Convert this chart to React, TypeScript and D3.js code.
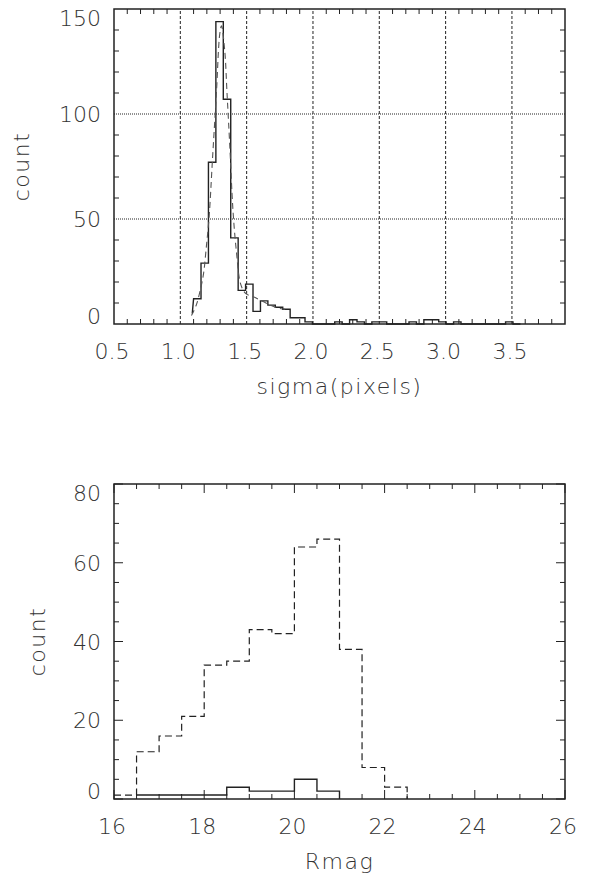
import React, { useEffect, useRef } from 'react';
import * as d3 from 'd3';

// ---- top panel: sigma histogram (solid) + fitted profile (dashed) ----
const sigmaBinStart = 1.1;
const sigmaBinWidth = 0.056;
const sigmaLead = [1.09, 5]; // partial first step drawn by the plot routine
const sigmaCounts = [
  12, 29, 77, 144, 107, 41, 16, 19, 6, 11, 9, 8, 7, 3, 3, 1,
  0, 0, 0, 1, 0, 2, 1, 0, 1, 1, 0, 0, 0, 1, 0, 2, 2, 1, 0, 1,
  0, 0, 0, 0, 0, 0, 1, 0,
];
const fitSigma = [1.084, 1.12, 1.15, 1.175, 1.195, 1.217, 1.242, 1.272, 1.297, 1.31, 1.335, 1.352, 1.372, 1.397, 1.422, 1.455, 1.492, 1.56, 1.648, 1.723, 1.79];
const fitCount = [4, 9, 16, 24, 36, 51, 78, 110, 138, 142, 130, 110, 86, 54, 35, 19, 14.6, 12.7, 9.9, 7.8, 7];
const sigmaTicks = [0.5, 1.0, 1.5, 2.0, 2.5, 3.0, 3.5];
const sigmaTickLabels = ['0.5', '1.0', '1.5', '2.0', '2.5', '3.0', '3.5'];
const countTicksTop = [0, 50, 100, 150];

// ---- bottom panel: Rmag histograms ----
const rmagBinWidth = 0.5;
const rmagAllStart = 16.0;
const rmagAll = [1, 12, 16, 21, 34, 35, 43, 42, 64, 66, 38, 8, 3];
const rmagSelStart = 16.5;
const rmagSel = [1, 1, 1, 1, 3, 2, 2, 5, 2];
const rmagTicks = [16, 18, 20, 22, 24, 26];
const countTicksBottom = [0, 20, 40, 60, 80];

const FONT = '"DejaVu Sans", sans-serif';
const INK = '#222';
const TEXT = '#333';

const stepPoints = (start, width, counts) => {
  const pts = [];
  counts.forEach((c, i) => {
    pts.push([start + i * width, c]);
    pts.push([start + (i + 1) * width, c]);
  });
  return pts;
};

const drawFrame = (g, x, y, opts) => {
  const [x0, x1] = x.range();
  const [y0, y1] = y.range();

  // minor + major ticks on all four sides
  const tick = (xs, len) => {
    xs.forEach((v) => {
      const px = x(v);
      g.append('line').attr('x1', px).attr('x2', px).attr('y1', y0).attr('y2', y0 - len)
        .attr('stroke', INK).attr('stroke-width', 1);
      g.append('line').attr('x1', px).attr('x2', px).attr('y1', y1).attr('y2', y1 + len)
        .attr('stroke', INK).attr('stroke-width', 1);
    });
  };
  const tickY = (ys, len) => {
    ys.forEach((v) => {
      const py = y(v);
      g.append('line').attr('x1', x0).attr('x2', x0 + len).attr('y1', py).attr('y2', py)
        .attr('stroke', INK).attr('stroke-width', 1);
      g.append('line').attr('x1', x1).attr('x2', x1 - len).attr('y1', py).attr('y2', py)
        .attr('stroke', INK).attr('stroke-width', 1);
    });
  };
  tick(opts.xMinor, 5);
  tickY(opts.yMinor, 5);
  if (opts.grid) {
    opts.xMajor.filter((v) => x(v) > x0 + 1 && x(v) < x1 - 1).forEach((v) => {
      g.append('line').attr('x1', x(v)).attr('x2', x(v)).attr('y1', y0).attr('y2', y1)
        .attr('stroke', INK).attr('stroke-width', 1).attr('stroke-dasharray', '3,2');
    });
    opts.yMajor.filter((v) => y(v) < y0 - 1 && y(v) > y1 + 1).forEach((v) => {
      g.append('line').attr('x1', x0).attr('x2', x1).attr('y1', y(v)).attr('y2', y(v))
        .attr('stroke', INK).attr('stroke-width', 1).attr('stroke-dasharray', '1,1');
    });
  } else {
    tick(opts.xMajor, 9);
    tickY(opts.yMajor, 9);
  }

  g.append('rect')
    .attr('x', x0).attr('y', y1).attr('width', x1 - x0).attr('height', y0 - y1)
    .attr('fill', 'none').attr('stroke', INK).attr('stroke-width', 1.5);

  // tick labels
  opts.xMajor.forEach((v, i) => {
    g.append('text').attr('x', x(v) - 2).attr('y', y0 + 35)
      .attr('text-anchor', 'middle').attr('font-family', FONT).attr('font-size', 22)
      .attr('font-weight', 200).attr('fill', TEXT)
      .text(opts.xLabels[i]);
  });
  opts.yMajor.forEach((v, i) => {
    let off = 8;
    if (i === 0) off = 0;
    if (i === opts.yMajor.length - 1) off = 17;
    g.append('text').attr('x', x0 - 13).attr('y', y(v) + off)
      .attr('text-anchor', 'end').attr('font-family', FONT).attr('font-size', 22)
      .attr('font-weight', 200).attr('fill', TEXT)
      .text(String(v));
  });

  // axis titles
  g.append('text').attr('x', (x0 + x1) / 2).attr('y', y0 + 70)
    .attr('text-anchor', 'middle').attr('font-family', FONT).attr('font-size', 22)
    .attr('font-weight', 200).attr('fill', TEXT).attr('letter-spacing', 1.5)
    .text(opts.xTitle);
  g.append('text')
    .attr('transform', `translate(${opts.yTitleX},${(y0 + y1) / 2}) rotate(-90)`)
    .attr('text-anchor', 'middle').attr('font-family', FONT).attr('font-size', 22)
    .attr('font-weight', 200).attr('fill', TEXT).attr('letter-spacing', 1.5)
    .text('count');
};

const App = () => {
  const svgRef = useRef(null);

  useEffect(() => {
    const svg = d3.select(svgRef.current);
    svg.selectAll('*').remove();

    // ---------- top panel ----------
    const xTop = d3.scaleLinear().domain([0.5, 3.9]).range([114, 565]);
    const yTop = d3.scaleLinear().domain([0, 150]).range([324, 9]);
    const gTop = svg.append('g');

    drawFrame(gTop, xTop, yTop, {
      grid: true,
      xMajor: sigmaTicks,
      xLabels: sigmaTickLabels,
      xMinor: d3.range(6, 39).map((d) => d / 10).filter((d) => Math.round(d * 10) % 5 !== 0),
      yMajor: countTicksTop,
      yMinor: d3.range(10, 150, 10).filter((d) => d % 50 !== 0),
      xTitle: 'sigma(pixels)',
      yTitleX: 29,
    });

    const lineTop = d3.line().x((d) => xTop(d[0])).y((d) => yTop(d[1]));
    const histTop = [sigmaLead, ...stepPoints(sigmaBinStart, sigmaBinWidth, sigmaCounts)];
    gTop.append('path').attr('d', lineTop(histTop))
      .attr('fill', 'none').attr('stroke', INK).attr('stroke-width', 1.4);

    const fitLine = d3.line()
      .x((d) => xTop(d[0])).y((d) => yTop(d[1]))
      .curve(d3.curveCatmullRom);
    gTop.append('path').attr('d', fitLine(fitSigma.map((s, i) => [s, fitCount[i]])))
      .attr('fill', 'none').attr('stroke', '#555').attr('stroke-width', 1.1)
      .attr('stroke-dasharray', '6,4');

    // ---------- bottom panel ----------
    const xBot = d3.scaleLinear().domain([16, 26]).range([114, 565]);
    const yBot = d3.scaleLinear().domain([0, 80]).range([799, 484]);
    const gBot = svg.append('g');

    drawFrame(gBot, xBot, yBot, {
      grid: false,
      xMajor: rmagTicks,
      xLabels: rmagTicks.map(String),
      xMinor: d3.range(16.5, 26, 0.5).filter((d) => d % 2 !== 0),
      yMajor: countTicksBottom,
      yMinor: d3.range(5, 80, 5).filter((d) => d % 20 !== 0),
      xTitle: 'Rmag',
      yTitleX: 45,
    });

    const lineBot = d3.line().x((d) => xBot(d[0])).y((d) => yBot(d[1]));
    const allPts = stepPoints(rmagAllStart, rmagBinWidth, rmagAll);
    allPts.push([rmagAllStart + rmagAll.length * rmagBinWidth, 0]);
    gBot.append('path').attr('d', lineBot(allPts))
      .attr('fill', 'none').attr('stroke', INK).attr('stroke-width', 1.2)
      .attr('stroke-dasharray', '7,4');

    const selPts = stepPoints(rmagSelStart, rmagBinWidth, rmagSel);
    selPts.push([rmagSelStart + rmagSel.length * rmagBinWidth, 0]);
    gBot.append('path').attr('d', lineBot(selPts))
      .attr('fill', 'none').attr('stroke', INK).attr('stroke-width', 1.4);
  }, []);

  return (
    <svg
      ref={svgRef}
      width={600}
      height={879}
      style={{ position: 'absolute', left: 0, top: 0, background: '#fff' }}
    />
  );
};

export default App;
